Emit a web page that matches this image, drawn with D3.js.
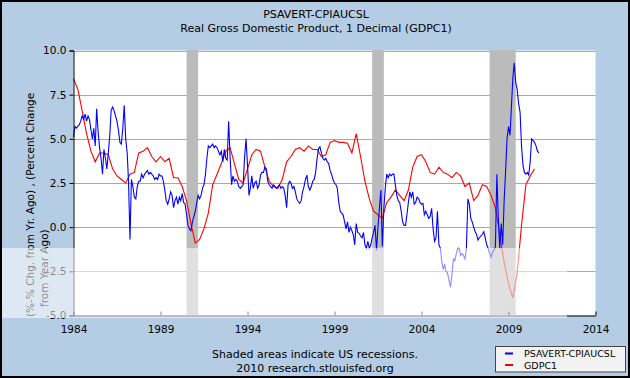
<!DOCTYPE html>
<html><head><meta charset="utf-8">
<script src="https://cdn.jsdelivr.net/npm/d3@7"></script>
<style>body{margin:0;background:#fff}svg{display:block}</style>
</head><body>
<svg id="chart" width="630" height="378"></svg>
<script>
// ---- DATA ----
const titleLines = ["PSAVERT-CPIAUCSL", "Real Gross Domestic Product, 1 Decimal (GDPC1)"];
const yLabelLines = ["(%-% Chg. from Yr. Ago) , (Percent Change", "from Year Ago)"];
const footerLines = ["Shaded areas indicate US recessions.", "2010 research.stlouisfed.org"];
const seriesNames = ["PSAVERT-CPIAUCSL", "GDPC1"];
const xTickYears = [1984, 1989, 1994, 1999, 2004, 2009, 2014];
const yTicks = [-5, -2.5, 0, 2.5, 5, 7.5, 10];
const recessions = [["1990-07-01", "1991-03-01"], ["2001-03-01", "2001-11-01"], ["2007-12-01", "2009-06-01"]];

// monthly, starting Jan 1984
const blueStart = "1984-01-01";
const blueValues = [
  5.1, 5.7, 5.6, 5.7, 5.8, 6.0, 6.3, 6.1, 6.4, 6.0, 6.3, 6.1,      // 1984
  5.5, 5.0, 5.6, 4.6, 6.7, 5.4, 4.5, 3.9, 3.0, 4.4, 3.9, 3.3,      // 1985
  4.2, 5.2, 6.6, 6.8, 6.6, 6.3, 6.0, 5.5, 4.8, 4.7, 5.6, 6.9,      // 1986
  5.0, 4.2, 2.6, -0.7, 2.7, 2.3, 1.7, 1.6, 2.3, 2.6, 2.6, 3.0,     // 1987
  2.8, 3.0, 3.1, 3.2, 3.0, 3.1, 3.0, 2.9, 2.7, 2.8, 2.7, 3.0,      // 1988
  2.9, 2.9, 2.6, 2.1, 1.5, 1.3, 1.6, 2.0, 1.8, 1.1, 1.5, 1.7,      // 1989
  1.3, 1.7, 1.5, 1.9, 1.4, 1.3, 0.7, 0.1, -0.1, -0.2, 0.3, 0.6,    // 1990
  0.9, 1.4, 1.8, 1.6, 1.8, 2.2, 2.4, 2.95, 3.9, 4.6, 4.5, 4.6,     // 1991
  4.7, 4.5, 4.6, 4.5, 4.3, 4.1, 4.3, 3.7, 4.4, 3.9, 3.8, 6.0,      // 1992
  3.9, 2.4, 2.9, 2.6, 2.7, 2.6, 2.3, 2.2, 2.3, 2.4, 4.0, 5.0,      // 1993
  3.5, 1.8, 2.2, 2.9, 2.2, 2.5, 2.6, 2.2, 2.4, 2.95, 3.1, 3.1,     // 1994
  3.4, 3.3, 2.6, 2.4, 2.3, 2.2, 2.4, 2.3, 2.2, 2.3, 2.4, 2.2,      // 1995
  2.3, 2.2, 1.8, 1.1, 2.4, 2.6, 2.5, 2.2, 2.3, 2.0, 1.6, 1.45,     // 1996
  1.35, 1.5, 2.0, 2.3, 2.7, 2.95, 2.3, 2.1, 2.3, 2.6, 2.7, 3.1,    // 1997
  3.9, 4.45, 4.55, 4.2, 3.9, 3.8, 3.9, 3.7, 3.6, 3.2, 3.0, 2.7,    // 1998
  2.5, 2.4, 2.2, 1.4, 0.9, 0.8, 0.7, 0.3, -0.1, 0.3, -0.3, 0.0,    // 1999
  -0.2, -0.45, -1.0, 0.2, -0.3, -0.35, -0.5, -0.6, -0.3, -1.0, -1.2, -0.8, // 2000
  -1.2, -1.0, -0.6, -0.3, 0.1, -1.3, 0.0, 1.1, 2.1, -1.1, 1.0, 2.2, // 2001
  3.0, 2.8, 3.0, 2.9, 3.0, 3.0, 2.4, 1.8, 1.5, 1.4, 0.9, 0.3,      // 2002
  0.1, 0.1, 0.7, 1.4, 2.0, 1.7, 2.0, 1.3, 1.4, 1.7, 1.6, 1.4,      // 2003
  1.3, 1.35, 0.7, 0.9, 0.7, 0.5, 0.6, 1.07, -0.1, -0.8, -0.6, 0.9, // 2004
  -1.0, -1.2, -1.9, -2.4, -2.1, -2.5, -2.6, -3.0, -3.4, -2.7, -1.8, -1.9, // 2005
  -1.5, -1.2, -1.2, -1.6, -1.5, -1.6, -1.8, -1.2, 1.6, 1.3, 0.5, 0.3,     // 2006
  0.0, -0.26, -0.4, -0.73, -0.6, -0.5, -0.4, -0.26, -0.6, -1.0, -1.2, -1.5, // 2007
  -1.7, -1.4, -1.3, -1.1, 3.0, 0.5, -1.2, 0.2, -1.0, 1.5, 3.2, 5.0, // 2008
  5.7, 5.2, 6.7, 8.4, 9.3, 8.2, 7.8, 7.0, 6.5, 4.6, 3.5, 3.1,      // 2009
  3.0, 3.1, 2.95, 3.7, 5.0, 4.9, 4.8, 4.6, 4.3, 4.2                // 2010
];

// quarterly, starting 1984 Q1
const redStart = "1984-01-01";
const redValues = [
  8.4, 7.8, 6.6, 5.3,    // 1984
  4.3, 3.7, 4.2, 4.2,    // 1985
  4.1, 3.3, 2.9, 2.7,    // 1986
  2.5, 3.0, 3.1, 4.2,    // 1987
  4.3, 4.5, 4.0, 3.7,    // 1988
  4.0, 3.7, 3.9, 2.8,    // 1989
  2.8, 2.3, 1.5, 0.2,    // 1990
  -0.9, -0.7, -0.1, 0.8, // 1991
  2.4, 3.0, 3.6, 4.3,    // 1992
  4.5, 3.6, 2.7, 2.5,    // 1993
  3.3, 4.1, 4.4, 4.3,    // 1994
  3.4, 2.6, 2.3, 2.2,    // 1995
  2.7, 3.7, 4.0, 4.4,    // 1996
  4.5, 4.3, 4.6, 4.4,    // 1997
  4.4, 4.0, 4.1, 4.8,    // 1998
  4.9, 4.8, 4.8, 4.75,   // 1999
  4.2, 5.3, 4.0, 2.6,    // 2000
  1.6, 0.9, 0.7, 0.5,    // 2001
  1.4, 1.7, 2.1, 1.8,    // 2002
  1.5, 2.1, 3.4, 4.0,    // 2003
  4.1, 3.7, 3.1, 3.0,    // 2004
  3.4, 3.1, 3.0, 2.8,    // 2005
  3.1, 2.9, 2.3, 2.5,    // 2006
  1.5, 1.8, 2.4, 2.3,    // 2007
  1.8, 1.1, -0.4, -2.0,  // 2008
  -3.2, -4.0, -2.6, 0.1, // 2009
  2.4, 2.9, 3.3          // 2010
];

// ---- BUILD ----
const parse = d3.timeParse("%Y-%m-%d");
const blueData = blueValues.map((v, i) => ({date: d3.timeMonth.offset(parse(blueStart), i), v}));
const redData = redValues.map((v, i) => ({date: d3.timeMonth.offset(parse(redStart), i * 3), v}));

const svg = d3.select("#chart");
const W = 630, H = 378;
const plot = {left: 73.5, right: 595.5, top: 50.5, bottom: 315.5};
const font = "DejaVu Sans";

svg.append("rect").attr("x", 0).attr("y", 0).attr("width", W).attr("height", H).attr("fill", "#b4cce4");

const x = d3.scaleTime().domain([new Date(1984, 0, 1), new Date(2014, 0, 1)]).range([plot.left, plot.right]);
const y = d3.scaleLinear().domain([-5, 10]).range([plot.bottom, plot.top]);

svg.append("rect").attr("x", plot.left).attr("y", plot.top)
  .attr("width", plot.right - plot.left).attr("height", plot.bottom - plot.top).attr("fill", "#ffffff");

// gridlines
svg.append("g").selectAll("line").data(yTicks.filter(d => d > -5)).join("line")
  .attr("x1", plot.left).attr("x2", plot.right)
  .attr("y1", d => Math.round(y(d)) + 0.5).attr("y2", d => Math.round(y(d)) + 0.5)
  .attr("stroke", "#a8a8a8").attr("stroke-width", 1);

// recessions
svg.append("g").selectAll("rect").data(recessions).join("rect")
  .attr("x", d => x(parse(d[0])))
  .attr("width", d => x(parse(d[1])) - x(parse(d[0])))
  .attr("y", plot.top - 0.5).attr("height", plot.bottom - plot.top)
  .attr("fill", "#bbbbbb");

// lines
const line = d3.line().x(d => x(d.date)).y(d => y(d.v));
svg.append("path").datum(redData).attr("d", line).attr("fill", "none")
  .attr("stroke", "#ff0000").attr("stroke-width", 1.1);
svg.append("path").datum(blueData).attr("d", line).attr("fill", "none")
  .attr("stroke", "#0000ff").attr("stroke-width", 1.1);

// axes
const yAxis = d3.axisLeft(y).tickValues(yTicks).tickFormat(d => d.toFixed(1)).tickSize(4).tickPadding(3);
const gy = svg.append("g").attr("transform", `translate(${plot.left},0)`).call(yAxis);
gy.select(".domain").attr("stroke", "#000");
gy.selectAll(".tick line").attr("stroke", "#000");
gy.selectAll("text").attr("font-family", font).attr("font-size", 10.5).attr("fill", "#000");

const xAxis = d3.axisTop(x).tickValues(xTickYears.map(yr => new Date(yr, 0, 1)))
  .tickFormat(d3.timeFormat("%Y")).tickSize(4).tickSizeOuter(0);
const gx = svg.append("g").attr("transform", `translate(0,${plot.bottom})`).call(xAxis);
gx.select(".domain").attr("stroke", "#000");
gx.selectAll(".tick line").attr("stroke", "#000");
gx.selectAll("text").attr("y", 17).attr("font-family", font).attr("font-size", 10.5).attr("fill", "#000");

// titles
svg.append("g").selectAll("text").data(titleLines).join("text")
  .attr("x", 316).attr("y", (d, i) => 18 + i * 14).attr("text-anchor", "middle")
  .attr("font-family", font).attr("font-size", 11).attr("fill", "#000").text(d => d);

// y label
svg.append("text").attr("transform", "translate(34,317) rotate(-90)")
  .attr("font-family", font).attr("font-size", 10.5).attr("fill", "#000").text(yLabelLines[0]);
svg.append("text").attr("transform", "translate(48,307) rotate(-90)")
  .attr("font-family", font).attr("font-size", 10.5).attr("fill", "#000").text(yLabelLines[1]);

// footer
svg.append("g").selectAll("text").data(footerLines).join("text")
  .attr("x", 315).attr("y", (d, i) => 358 + i * 14).attr("text-anchor", "middle")
  .attr("font-family", font).attr("font-size", 11).attr("fill", "#000").text(d => d);

// legend
const lg = svg.append("g");
lg.append("rect").attr("x", 495.5).attr("y", 346.5).attr("width", 130).attr("height", 25.5)
  .attr("fill", "#f2f2f2").attr("stroke", "#444").attr("stroke-width", 1);
const colors = ["#0000ff", "#ff0000"];
seriesNames.forEach((n, i) => {
  const yy = 353.5 + i * 11.5;
  lg.append("line").attr("x1", 505).attr("x2", 513).attr("y1", yy).attr("y2", yy)
    .attr("stroke", colors[i]).attr("stroke-width", 2);
  lg.append("text").attr("x", 524).attr("y", yy + 3.5).attr("font-family", font)
    .attr("font-size", 9.5).attr("fill", "#000").text(n);
});

// watermark band overlay
svg.append("rect").attr("x", 0).attr("y", 248).attr("width", 567).attr("height", 70)
  .attr("fill", "#ffffff").attr("opacity", 0.55);

// outer border
svg.append("rect").attr("x", 1).attr("y", 1).attr("width", W - 2).attr("height", H - 2)
  .attr("fill", "none").attr("stroke", "#000").attr("stroke-width", 2);
</script>
</body></html>
